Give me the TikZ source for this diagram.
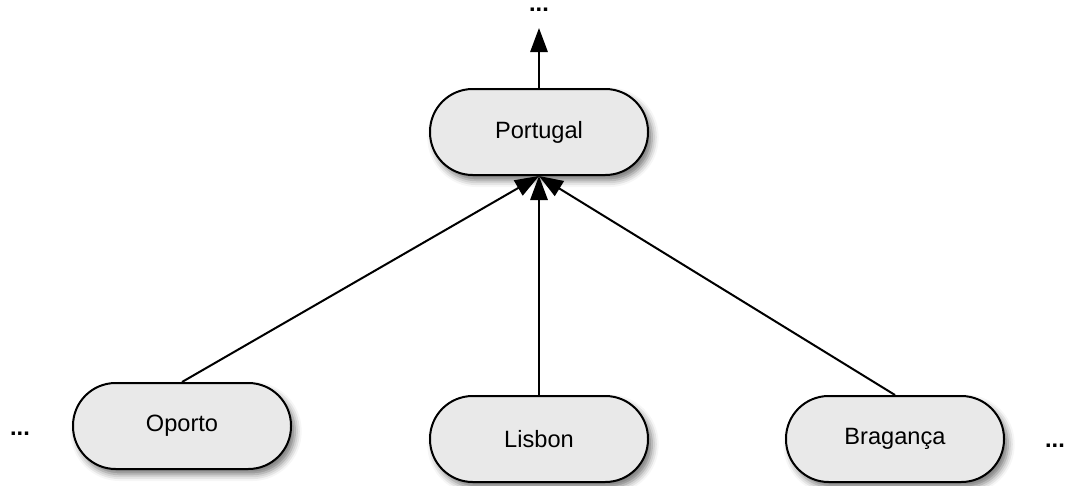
\documentclass[tikz,border=0pt]{standalone}
\usepackage{fontspec}
\setmainfont{Liberation Sans}
\usetikzlibrary{arrows.meta,shadows.blur}
\begin{document}
\begin{tikzpicture}[x=0.75pt,y=-0.75pt,
  place/.style={draw=black, line width=1.5pt, fill={rgb,255:red,233;green,233;blue,233},
    minimum width=163.5pt, minimum height=64.5pt, rounded corners=32pt, inner sep=0pt,
    font=\fontsize{17.7pt}{20pt}\selectfont,
    blur shadow={shadow xshift=3pt, shadow yshift=-4pt, shadow blur radius=5pt, shadow opacity=55}},
  more/.style={font=\bfseries\fontsize{17.7pt}{20pt}\selectfont, inner sep=0pt},
  link/.style={line width=1.5pt, -{Triangle[length=18pt,width=13pt]}}]
\useasboundingbox (0,0) rectangle (1065,486);
\node[place] (pt) at (539,132) {Portugal};
\node[place] (op) at (182,426) {Oporto};
\node[place] (li) at (539,439) {Lisbon};
\node[place] (br) at (895,439) {Bragança};
\node[more] (up) at (539,10) {...};
\node[more] (lm) at (20,434) {...};
\node[more] (rm) at (1055,446) {...};
\draw[link, shorten >=12pt] (pt.north) -- (up.south);
\draw[link] (op.north) -- (pt.south);
\draw[link] (li.north) -- (pt.south);
\draw[link] (br.north) -- (pt.south);
\end{tikzpicture}
\end{document}
